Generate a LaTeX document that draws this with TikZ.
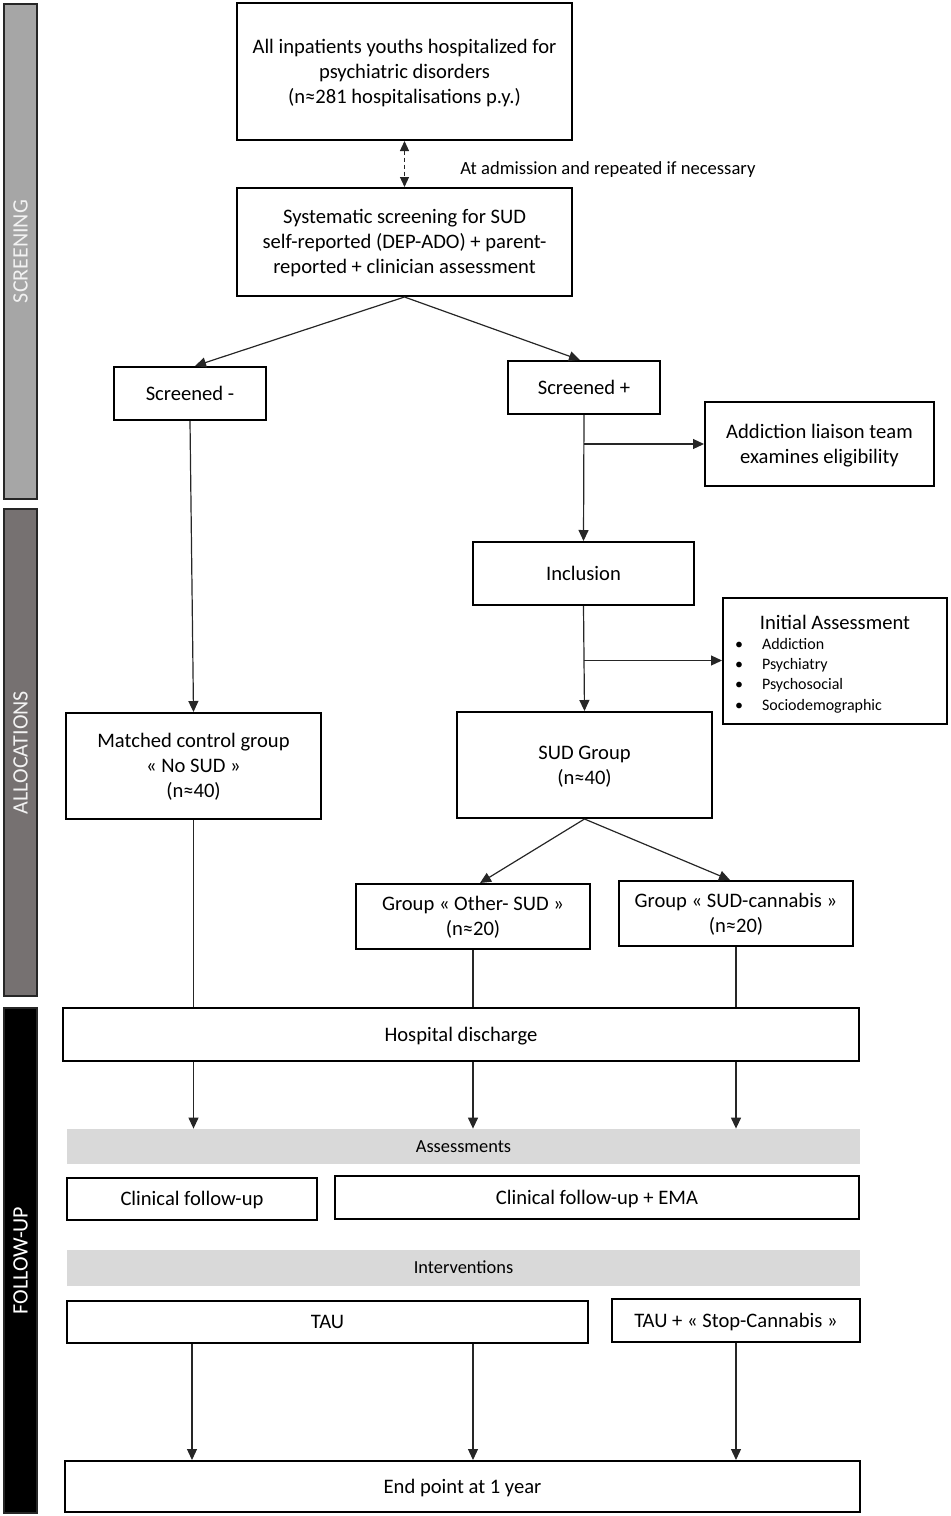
\documentclass[tikz,border=0pt]{standalone}
\usepackage{fontspec}
\setmainfont{Carlito}
\usetikzlibrary{arrows.meta}
\definecolor{scrfill}{HTML}{A6A6A6}
\definecolor{allocfill}{HTML}{767171}
\definecolor{bandgray}{HTML}{D9D9D9}
\definecolor{sidetxt}{HTML}{F2F2F2}
% multi-line text: box from cap top of first line to baseline of last line
\newcommand\mlines[2]{\raisebox{0pt}[\dimexpr 12.5pt*\numexpr#1-1\relax+6.63pt\relax][0pt]{\begin{tabular}[b]{@{}c@{}}#2\end{tabular}}}
\begin{document}
\begin{tikzpicture}[x=0.5pt,y=-0.5pt,
 box/.style={draw=black, line width=1pt, inner sep=0pt, font=\fontsize{10.3}{12.5}\selectfont},
 one/.style={box, text height=6.63pt, text depth=0pt},
 band/.style={fill=bandgray, inner sep=0pt, minimum width=396.5pt, text height=5.92pt, text depth=0pt, font=\fontsize{9.2}{11}\selectfont},
 side/.style={draw=black!85, line width=0.9pt, inner sep=0pt, rotate=90, minimum height=16.5pt, text height=7.08pt, text depth=0pt, text=sidetxt, font=\fontsize{11}{13}\selectfont},
 conn/.style={line width=0.6pt, draw=black!85},
 arr/.style={conn, -{Triangle[length=5.5pt,width=5pt]}},
 darr/.style={conn, dash pattern=on 2pt off 1.5pt, {Triangle[length=5pt,width=4.5pt]}-{Triangle[length=5pt,width=4.5pt]}},
]
\useasboundingbox (0,0) rectangle (950,1516);

% side bars
\node[side, fill=scrfill, minimum width=247.5pt] (s1) at (20.5,251.5) {SCREENING};
\node[side, fill=allocfill, minimum width=243.5pt] (s2) at (20.5,752.5) {ALLOCATIONS};
\node[side, fill=black, text=white, minimum width=252.5pt] (s3) at (20.5,1260.5) {FOLLOW-UP};

% boxes
\node[box, minimum width=167.5pt, minimum height=68.5pt] (top) at (404.5,71.5)
 {\mlines{3}{All inpatients youths hospitalized for\\psychiatric disorders\\(n≈281 hospitalisations p.y.)}};
\node[box, minimum width=167.5pt, minimum height=54pt] (scr) at (404.5,242)
 {\mlines{3}{Systematic screening for SUD\\self-reported (DEP-ADO) + parent-\\reported + clinician assessment}};
\node[anchor=west, inner sep=0pt, text height=5.99pt, text depth=0pt, font=\fontsize{9.3}{11}\selectfont] (adm) at (460,169) {At admission and repeated if necessary};

\node[one, minimum width=76pt, minimum height=26.5pt] (sm) at (190,393.5) {Screened -};
\node[one, minimum width=76pt, minimum height=26.5pt] (sp) at (584,387.5) {Screened +};
\node[box, minimum width=114.5pt, minimum height=42pt] (al) at (819.5,444) {\mlines{2}{Addiction liaison team\\examines eligibility}};
\node[one, minimum width=110.5pt, minimum height=31.5pt] (inc) at (583.5,573.5) {Inclusion};
\node[box, minimum width=112pt, minimum height=63pt] (ia) at (835,660.5)
 {\raisebox{0pt}[49.5pt][0pt]{\parbox[b]{112pt}{\centering\fontsize{10.3}{10.1}\selectfont Initial Assessment\par
  \raggedright\fontsize{8}{10.1}\selectfont
  \hspace*{6pt}\makebox[13.5pt][l]{•}Addiction\par
  \hspace*{6pt}\makebox[13.5pt][l]{•}Psychiatry\par
  \hspace*{6pt}\makebox[13.5pt][l]{•}Psychosocial\par
  \hspace*{6pt}\makebox[13.5pt][l]{•}Sociodemographic}}};
\node[box, minimum width=127.5pt, minimum height=53pt] (mc) at (193.5,766) {\mlines{3}{Matched control group\\« No SUD »\\(n≈40)}};
\node[box, minimum width=127.5pt, minimum height=53pt] (sud) at (584.5,765) {\mlines{2}{SUD Group\\(n≈40)}};
\node[box, minimum width=117pt, minimum height=32.5pt] (og) at (473,916.5) {\mlines{2}{Group « Other- SUD »\\(n≈20)}};
\node[box, minimum width=117pt, minimum height=32.5pt] (sc) at (736,913.5) {\mlines{2}{Group « SUD-cannabis »\\(n≈20)}};
\node[one, minimum width=398pt, minimum height=26.5pt] (hd) at (461,1034.5) {Hospital discharge};
\node[band, minimum height=17.5pt] (asm) at (463.5,1146.5) {Assessments};
\node[one, minimum width=125pt, minimum height=21pt] (cf) at (192,1199) {Clinical follow-up};
\node[one, minimum width=262pt, minimum height=21.5pt] (cfe) at (597,1197.5) {Clinical follow-up + EMA};
\node[band, minimum height=18pt] (itv) at (463.5,1268) {Interventions};
\node[one, minimum width=260.5pt, minimum height=21pt] (tau) at (327.5,1322) {TAU};
\node[one, minimum width=124pt, minimum height=21.5pt] (ts) at (736,1320.5) {TAU + « Stop-Cannabis »};
\node[one, minimum width=397.5pt, minimum height=25.5pt] (end) at (462.5,1486.5) {End point at 1 year};

% connectors
\draw[darr] (top.south) -- (scr.north);
\draw[arr] (scr.south) -- ([xshift=2.5pt]sm.north);
\draw[arr] (scr.south) -- ([xshift=-2pt]sp.north);
\draw[arr] (sp.south) -- (inc.north);
\coordinate (b1) at (sp.south |- al.west);
\draw[arr] (b1) -- (al.west);
\draw[arr] (inc.south) -- (sud.north);
\coordinate (b2) at (inc.south |- ia.west);
\draw[arr] (b2) -- (ia.west);
\draw[arr] (sm.south) -- (mc.north);
\draw[arr] (sud.south) -- ([xshift=3.5pt]og.north);
\draw[arr] (sud.south) -- ([xshift=-3pt]sc.north);
\draw[conn] (mc.south) -- (mc.south |- hd.north);
\draw[conn] (og.south) -- (og.south |- hd.north);
\draw[conn] (sc.south) -- (sc.south |- hd.north);
\draw[arr] (hd.south -| mc.south) -- (asm.north -| mc.south);
\draw[arr] (hd.south -| og.south) -- (asm.north -| og.south);
\draw[arr] (hd.south -| sc.south) -- (asm.north -| sc.south);
\draw[arr] (tau.south -| cf.south) -- (end.north -| cf.south);
\draw[arr] (tau.south -| og.south) -- (end.north -| og.south);
\draw[arr] (ts.south) -- (end.north -| ts.south);
\end{tikzpicture}
\end{document}
